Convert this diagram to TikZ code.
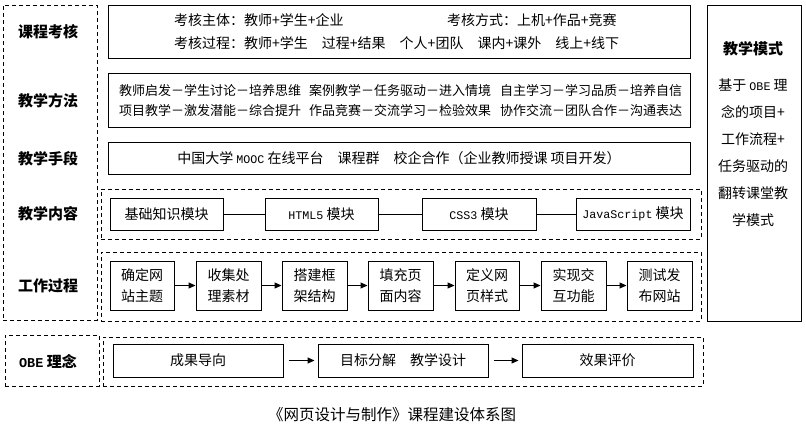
\documentclass[tikz,border=0pt]{standalone}
\usepackage{fontspec}
\setmainfont{Noto Sans CJK SC}
\newfontfamily\monof{Liberation Mono}
\usetikzlibrary{arrows.meta}
\newcommand\bxn[7]{\node[#6,minimum width={#4-#2},minimum height={#5-#3}] (#1) at ({(#2+#4)/2},{(#3+#5)/2}) {#7};}
\newcommand\lat[1]{{\monof\fontsize{11.7}{14}\selectfont #1}}
\begin{document}
\begin{tikzpicture}[x=1pt,y=-1pt,
  solidbox/.style={draw, line width=1pt, inner sep=0pt, align=center, font=\fontsize{14}{21}\selectfont},
  dashbox/.style={draw, line width=0.9pt, dash pattern=on 4pt off 3pt, inner sep=0pt},
  rowlabel/.style={inner sep=0pt, font=\bfseries\fontsize{15}{18}\selectfont},
  plaintext/.style={inner sep=0pt, anchor=west, font=\fontsize{14}{17}\selectfont},
  methtext/.style={inner sep=0pt, anchor=west, font=\fontsize{13}{16}\selectfont},
  arr/.style={-{Triangle[length=7pt,width=6pt]}, line width=1pt}]
\fill[white] (0,0) rectangle (806,432);
\useasboundingbox (0,0) rectangle (806,432);

% left column
\bxn{leftcol}{3}{5}{97}{320}{dashbox}{}
\node[rowlabel] (l1) at (48,32) {课程考核};
\node[rowlabel] (l2) at (48,101) {教学方法};
\node[rowlabel] (l3) at (48,159) {教学手段};
\node[rowlabel] (l4) at (48,214) {教学内容};
\node[rowlabel] (l5) at (48,286) {工作过程};

% row 1
\bxn{kh}{108}{5}{690}{58}{solidbox}{}
\node[plaintext] (kh1) at (174,20) {考核主体：教师+学生+企业};
\node[plaintext] (kh2) at (447,20) {考核方式：上机+作品+竞赛};
\node[plaintext] (kh3) at (174,43) {考核过程：教师+学生　过程+结果　个人+团队　课内+课外　线上+线下};

% row 2
\bxn{ff}{108}{73}{690}{127}{solidbox}{}
\node[methtext] (f1) at (119,91) {教师启发－学生讨论－培养思维};
\node[methtext] (f2) at (309,91) {案例教学－任务驱动－进入情境};
\node[methtext] (f3) at (500,91) {自主学习－学习品质－培养自信};
\node[methtext] (f4) at (119,111) {项目教学－激发潜能－综合提升};
\node[methtext] (f5) at (309,111) {作品竞赛－交流学习－检验效果};
\node[methtext] (f6) at (500,111) {协作交流－团队合作－沟通表达};

% row 3
\bxn{sd}{108}{142}{690}{174}{solidbox}{中国大学 \lat{MOOC} 在线平台　课程群　校企合作（企业教师授课 项目开发）}

% row 4
\bxn{nr}{101}{189}{701}{239}{dashbox}{}
\bxn{m1}{110}{198}{223}{230}{solidbox}{基础知识模块}
\bxn{m2}{265}{198}{378}{230}{solidbox}{\lat{HTML5} 模块}
\bxn{m3}{422}{198}{536}{230}{solidbox}{\lat{CSS3} 模块}
\bxn{m4}{576}{198}{690}{230}{solidbox}{\lat{JavaScript} 模块}
\draw[line width=1pt] (m1) -- (m2);
\draw[line width=1pt] (m2) -- (m3);
\draw[line width=1pt] (m3) -- (m4);

% row 5
\bxn{gz}{101}{252}{701}{321}{dashbox}{}
\bxn{s1}{110}{261}{174}{310}{solidbox}{确定网\\站主题}
\bxn{s2}{196}{261}{261}{310}{solidbox}{收集处\\理素材}
\bxn{s3}{282}{261}{347}{310}{solidbox}{搭建框\\架结构}
\bxn{s4}{368}{261}{433}{310}{solidbox}{填充页\\面内容}
\bxn{s5}{455}{261}{519}{310}{solidbox}{定义网\\页样式}
\bxn{s6}{541}{261}{606}{310}{solidbox}{实现交\\互功能}
\bxn{s7}{627}{261}{692}{310}{solidbox}{测试发\\布网站}
\draw[arr] (s1) -- (s2);
\draw[arr] (s2) -- (s3);
\draw[arr] (s3) -- (s4);
\draw[arr] (s4) -- (s5);
\draw[arr] (s5) -- (s6);
\draw[arr] (s6) -- (s7);

% right column
\bxn{ms}{707}{5}{801}{321}{solidbox}{}
\node[rowlabel] (mst) at (753,49) {教学模式};
\node[inner sep=0pt, align=center, font=\fontsize{14}{27}\selectfont] (msb) at (753,153)
  {基于 \lat{OBE} 理\\念的项目+\\工作流程+\\任务驱动的\\翻转课堂教\\学模式};

% OBE row
\bxn{obel}{5}{335}{99}{386}{dashbox}{}
\node[rowlabel] (l6) at (48,361) {{\monof\bfseries\fontsize{13.5}{15}\selectfont OBE} 理念};
\bxn{ober}{103}{337}{703}{386}{dashbox}{}
\bxn{o1}{113}{344}{283}{377}{solidbox}{成果导向}
\bxn{o2}{318}{344}{488}{377}{solidbox}{目标分解　教学设计}
\bxn{o3}{522}{344}{693}{377}{solidbox}{效果评价}
\draw[arr, shorten <=5pt, shorten >=3pt] (o1) -- (o2);
\draw[arr, shorten <=5pt, shorten >=3pt] (o2) -- (o3);

% caption
\node[inner sep=0pt, font=\fontsize{15.5}{18}\selectfont] (cap) at (392,415) {《网页设计与制作》课程建设体系图};
\end{tikzpicture}
\end{document}
